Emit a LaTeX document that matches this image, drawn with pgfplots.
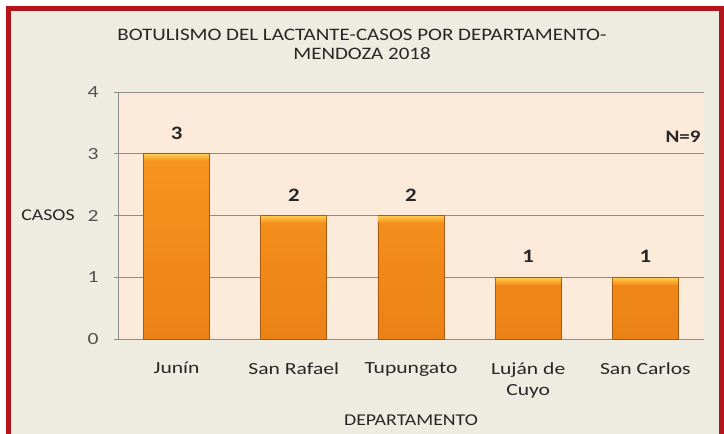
\documentclass[border=0pt]{standalone}
\usepackage{pgfplots}
\pgfplotsset{compat=1.18}
\usepackage{fontspec}
\setmainfont{Carlito}[FakeStretch=1.2]
\newfontfamily\tickfont{Carlito}[FakeStretch=1.27]
\definecolor{framered}{HTML}{B3141C}
\definecolor{chartbg}{HTML}{EEECE1}
\definecolor{plotbg}{HTML}{FCEADB}
\definecolor{barorange}{HTML}{F7941E}
\definecolor{bartop}{HTML}{FFCB4E}
\definecolor{barbottom}{HTML}{EC8216}
\definecolor{baredge}{HTML}{A85A12}
\definecolor{gridc}{HTML}{8C8C8C}
\definecolor{txt}{HTML}{262626}
\pgfdeclarelayer{bg}
\pgfsetlayers{bg,main}
\pgfdeclareplotmark{bevel}{%
  \path[draw=none, top color=bartop, bottom color=barorange] (-32.4pt,-7pt) rectangle (32.4pt,-0.3pt);
  \path[draw=baredge, line width=0.6pt] (-32.7pt,0pt) -- (32.7pt,0pt);
}
\begin{document}
\begin{tikzpicture}
\begin{axis}[
  name=ax,
  scale only axis,
  width=586pt, height=247pt,
  xmin=-0.5, xmax=4.5, ymin=0, ymax=4,
  xtick={0,1,2,3,4},
  xticklabels={Junín, San Rafael, Tupungato, {Luján de\\Cuyo}, San Carlos},
  ytick={0,1,2,3,4},
  axis background/.style={fill=plotbg},
  axis lines*=left,
  axis line style={gridc, line width=0.8pt},
  ymajorgrids, grid style={gridc, line width=0.8pt},
  xtick style={draw=none},
  ytick style={gridc, line width=0.8pt},
  tick align=outside, major tick length=4pt,
  ticklabel style={font=\tickfont\fontsize{17}{21}\selectfont, text=txt},
  /pgf/number format/assume math mode=true,
  yticklabel style={anchor=center, xshift=-21pt, text=txt!80},
  xticklabel style={align=center, anchor=north, inner sep=0pt, yshift=-19pt},
  xlabel={DEPARTAMENTO},
  xlabel style={at={(axis description cs:0.5,0)}, anchor=center, yshift=-81pt, font=\fontsize{16.5}{19}\selectfont, text=txt},
  ylabel={CASOS},
  ylabel style={at={(axis description cs:0,0.5)}, rotate=-90, anchor=center, xshift=-70pt, font=\fontsize{16.5}{19}\selectfont, text=txt},
  clip=false,
]
\addplot[
  ybar, bar width=66pt, bar shift=0pt,
  draw=baredge, line width=0.6pt,
  top color=barorange, bottom color=barbottom,
  nodes near coords,
  every node near coord/.append style={font=\fontsize{19}{21}\selectfont\bfseries, text=txt, inner sep=0pt, yshift=14pt},
] coordinates {(0,3) (1,2) (2,2) (3,1) (4,1)};
\addplot[only marks, mark=bevel, draw=none, mark options={draw=none, fill=none}] coordinates {(0,3) (1,2) (2,2) (3,1) (4,1)};
\node[anchor=east, font=\fontsize{17.5}{19}\selectfont\bfseries, text=txt] at (rel axis cs:1,0.818) {N=9};
\end{axis}
\coordinate (o) at ([shift={(-118pt,-95pt)}]ax.south west);
\begin{scope}[shift={(o)}, x=1pt, y=1pt]
\useasboundingbox (0,0) rectangle (724,434);
\begin{pgfonlayer}{bg}
\fill[white] (0,0) rectangle (724,434);
\fill[chartbg] (8.5,0) rectangle (721.5,425.5);
\draw[framered,line width=5pt] (8.5,-3) -- (8.5,425.5) -- (721.5,425.5) -- (721.5,-3);
\end{pgfonlayer}
\node[font=\fontsize{17.5}{19}\selectfont, text=txt, align=center] at (362,390) {BOTULISMO DEL LACTANTE-CASOS POR DEPARTAMENTO-\\MENDOZA 2018};
\end{scope}
\end{tikzpicture}
\end{document}
